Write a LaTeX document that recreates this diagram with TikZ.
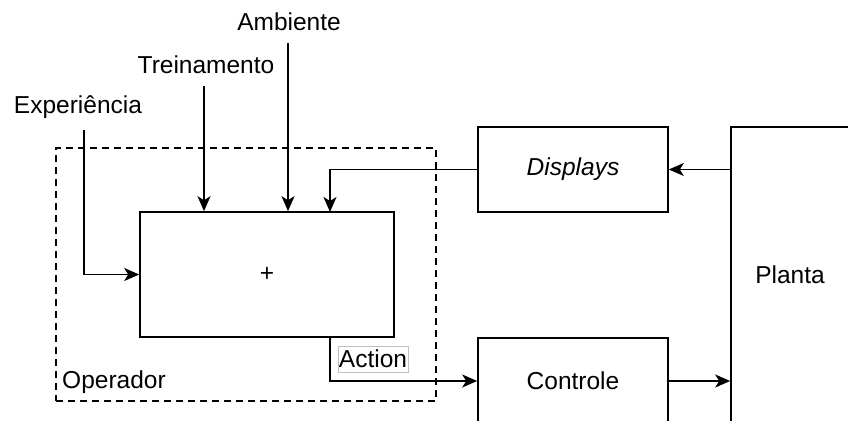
\documentclass[tikz,border=0pt]{standalone}
\usepackage{fontspec}
\setmainfont{Liberation Sans}
\usetikzlibrary{arrows.meta}
\begin{document}
\begin{tikzpicture}[x=1pt, y=-1pt,
  font=\fontsize{24.5}{29}\selectfont,
  box/.style={draw, line width=1.6pt, rectangle, inner sep=0pt, fill=white},
  group/.style={draw, line width=1.6pt, dash pattern=on 7pt off 5pt, rectangle, inner sep=0pt},
  flow/.style={line width=1.6pt, -{Stealth[length=15pt, width=13pt, inset=4pt]}},
  tag/.style={inner sep=0pt},
  actiontag/.style={draw=black!25, line width=0.8pt, fill=white, inner sep=0pt,
    minimum width=70pt, minimum height=26pt}
]
\useasboundingbox (0,0) rectangle (848,420);
\clip (0,0) rectangle (848,420);

% operator group
\node[group, minimum width=380pt, minimum height=253pt] (opbox) at (246,274.5) {};
\node[tag, anchor=west] (oplabel) at (62,382) {Operador};

% blocks
\node[box, minimum width=254pt, minimum height=125pt] (op) at (267,274.5) {+};
\node[box, minimum width=190pt, minimum height=85pt] (disp) at (573,169.5) {\itshape Displays};
\node[box, minimum width=190pt, minimum height=86pt] (ctrl) at (573,381) {Controle};
\node[box, minimum width=118pt, minimum height=296pt] (plant) at (790,275) {Planta};

% inputs
\node[tag] (exp) at (78,107) {Experiência};
\node[tag] (trein) at (206,65) {Treinamento};
\node[tag] (amb) at (289,22) {Ambiente};
\coordinate (expS) at (84,130);
\coordinate (treinS) at (204,86);
\coordinate (ambS) at (288,43);
\coordinate (fbIn) at (330,212);
\coordinate (actOut) at (330,337);

\draw[flow] (expS) |- (op.west);
\draw[flow] (treinS) -- (treinS |- op.north);
\draw[flow] (ambS) -- (ambS |- op.north);
\draw[flow] (disp.west) -| (fbIn);
\draw[flow] (plant.west |- disp.east) -- (disp.east);
\draw[flow] (ctrl.east) -- (ctrl.east -| plant.west);
\draw[flow] (actOut) |- (ctrl.west);

\node[actiontag] (action) at (373,359) {Action};
\end{tikzpicture}
\end{document}
